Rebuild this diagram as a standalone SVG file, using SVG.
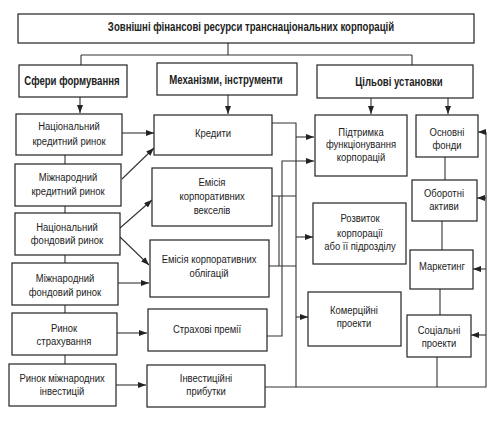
<svg xmlns="http://www.w3.org/2000/svg" width="504" height="421" viewBox="0 0 504 421">
<defs>
<marker id="ah" markerUnits="userSpaceOnUse" markerWidth="8" markerHeight="6" refX="8" refY="3" orient="auto">
<path d="M0,0 L8,3 L0,6 z" fill="#222"/>
</marker>
<style>
rect{fill:#fff;stroke:#222;stroke-width:1.2}
.t{font-family:"Liberation Sans",Arial,sans-serif;font-size:11px;fill:#222;text-anchor:middle;transform-box:fill-box;transform-origin:center;transform:scaleX(.86)}
.b{font-weight:bold;font-size:12px;transform:scaleX(.8)}
#connectors path{fill:none;stroke:#333;stroke-width:1.1}
.a{marker-end:url(#ah)}
</style>
</defs>
<rect x="0" y="0" width="504" height="421" style="fill:#fff;stroke:none"/>
<g id="connectors">
<path d="M228,43 V55 M81,55 H412 M81,55 V65 M412,55 V65"/>
<path class="a" d="M80,97 V113"/>
<path class="a" d="M228,95 V114"/>
<path class="a" d="M371,98 V114"/>
<path class="a" d="M448,98 V114"/>
<path d="M65,155 V164 M65,206 V213 M65,255 V263 M65,305 V313 M65,355 V364"/>
<path class="a" d="M122,133 H154"/>
<path class="a" d="M122,179 L154,148"/>
<path class="a" d="M120,228 L152,200"/>
<path class="a" d="M120,237 L149,265"/>
<path class="a" d="M118,283 H149"/>
<path class="a" d="M117,333 H147"/>
<path class="a" d="M116,385 H146"/>
<path d="M272,123 H296 V387 M272,196 H296 M269,266 H296"/>
<path class="a" d="M296,137 H314"/>
<path class="a" d="M296,237 H313"/>
<path class="a" d="M296,317 H308"/>
<path class="a" d="M267,336 H282 V161 H314"/>
<path d="M279,196 V266"/>
<path d="M265,387 H486 V132"/>
<path class="a" d="M486,132 H478"/>
<path class="a" d="M486,198 H477"/>
<path class="a" d="M486,269 H473"/>
<path class="a" d="M486,335 H471"/>
<path d="M445,157 V180 M442,221 V250 M440,289 V315 M437,357 V387"/>
</g>
<g id="title"><rect x="18" y="14" width="456" height="29"/><text class="t b" x="251" y="31">Зовнішні фінансові ресурси транснаціональних корпорацій</text></g>
<g id="h1"><rect x="19" y="65" width="108" height="32"/><text class="t b" x="72" y="85">Сфери формування</text></g>
<g id="h2"><rect x="157" y="63" width="140" height="32"/><text class="t b" x="226" y="84">Механізми, інструменти</text></g>
<g id="h3"><rect x="317" y="65" width="156" height="33"/><text class="t b" x="399" y="86">Цільові установки</text></g>
<g id="s1"><rect x="16" y="114" width="106" height="41"/><text class="t" x="69" y="130">Національний</text><text class="t" x="69" y="145">кредитний ринок</text></g>
<g id="s2"><rect x="15" y="164" width="106" height="42"/><text class="t" x="68" y="181">Міжнародний</text><text class="t" x="68" y="195">кредитний ринок</text></g>
<g id="s3"><rect x="15" y="213" width="105" height="42"/><text class="t" x="67" y="231">Національний</text><text class="t" x="67" y="244">фондовий ринок</text></g>
<g id="s4"><rect x="12" y="263" width="106" height="42"/><text class="t" x="65" y="282">Міжнародний</text><text class="t" x="65" y="296">фондовий ринок</text></g>
<g id="s5"><rect x="12" y="313" width="105" height="42"/><text class="t" x="64" y="332">Ринок</text><text class="t" x="64" y="345">страхування</text></g>
<g id="s6"><rect x="9" y="364" width="107" height="42"/><text class="t" x="62" y="382">Ринок міжнародних</text><text class="t" x="62" y="395">інвестицій</text></g>
<g id="m1"><rect x="154" y="115" width="118" height="40"/><text class="t" x="213" y="137">Кредити</text></g>
<g id="m2"><rect x="152" y="168" width="120" height="58"/><text class="t" x="212" y="186">Емісія</text><text class="t" x="212" y="200">корпоративних</text><text class="t" x="212" y="214">векселів</text></g>
<g id="m3"><rect x="150" y="240" width="119" height="57"/><text class="t" x="209" y="263">Емісія корпоративних</text><text class="t" x="209" y="277">облігацій</text></g>
<g id="m4"><rect x="148" y="309" width="119" height="42"/><text class="t" x="207" y="333">Страхові премії</text></g>
<g id="m5"><rect x="147" y="365" width="118" height="42"/><text class="t" x="206" y="382">Інвестиційні</text><text class="t" x="206" y="395">прибутки</text></g>
<g id="g1"><rect x="315" y="115" width="92" height="61"/><text class="t" x="361" y="136">Підтримка</text><text class="t" x="361" y="148">функціонування</text><text class="t" x="361" y="161">корпорацій</text></g>
<g id="g2"><rect x="313" y="203" width="93" height="61"/><text class="t" x="360" y="222">Розвиток</text><text class="t" x="360" y="237">корпорації</text><text class="t" x="360" y="250">або її підрозділу</text></g>
<g id="g3"><rect x="308" y="292" width="93" height="54"/><text class="t" x="354" y="314">Комерційні</text><text class="t" x="354" y="327">проекти</text></g>
<g id="t1"><rect x="416" y="115" width="62" height="42"/><text class="t" x="447" y="136">Основні</text><text class="t" x="447" y="149">фонди</text></g>
<g id="t2"><rect x="412" y="180" width="65" height="41"/><text class="t" x="444" y="197">Оборотні</text><text class="t" x="444" y="210">активи</text></g>
<g id="t3"><rect x="410" y="250" width="63" height="39"/><text class="t" x="442" y="270">Маркетинг</text></g>
<g id="t4"><rect x="407" y="315" width="64" height="42"/><text class="t" x="439" y="334">Соціальні</text><text class="t" x="439" y="347">проекти</text></g>
</svg>
